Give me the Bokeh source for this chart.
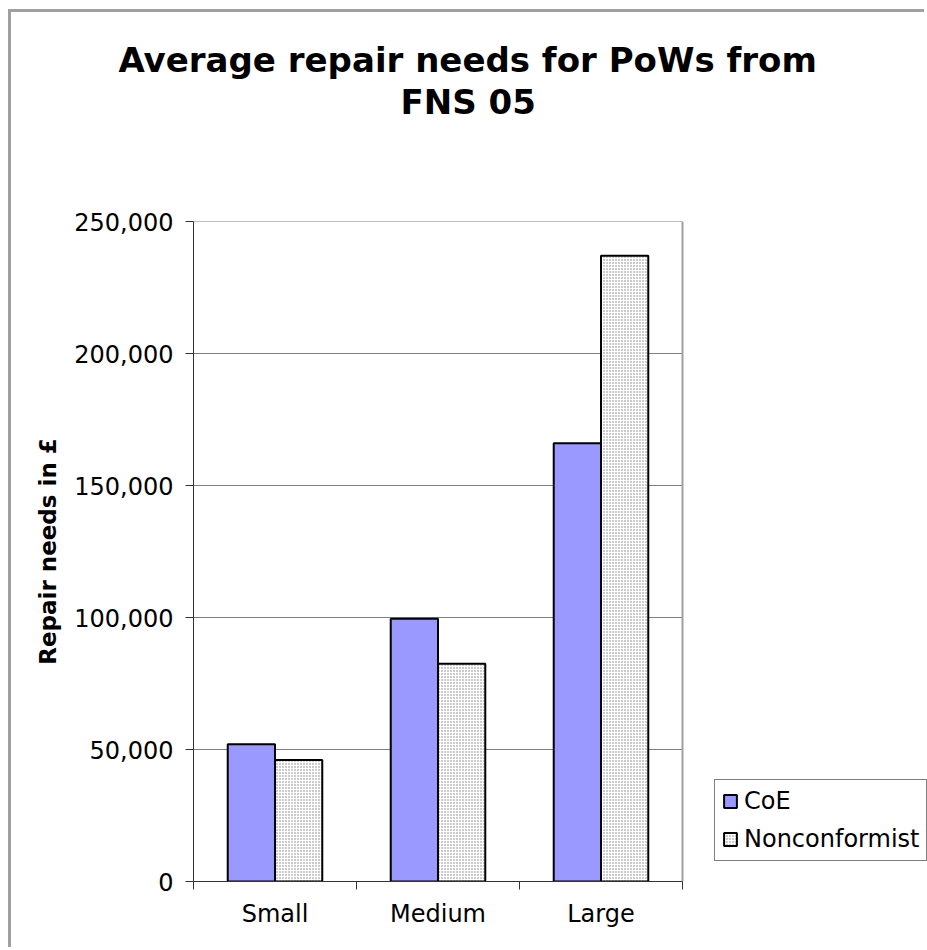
from bokeh.plotting import figure
from bokeh.models import (Range1d, LinearAxis, FixedTicker,
                          NumeralTickFormatter, Legend, LegendItem, ColumnDataSource, Title)
from bokeh.transform import dodge
from bokeh.embed import file_html
from bokeh.resources import INLINE

categories = ["Small", "Medium", "Large"]
coe = [52000, 99500, 166000]
nonconformist = [46000, 82500, 237000]
y_ticks = [0, 50000, 100000, 150000, 200000, 250000]
series_names = ["CoE", "Nonconformist"]
title_lines = ["Average repair needs for PoWs from", "FNS 05"]

FONT = "DejaVu Sans"
n = len(categories)

# geometry: the visible plot area is PLOT_PX wide; the frame extends to the canvas edge
CANVAS_W, CANVAS_H = 916, 938
LEFT, TOP, BOTTOM = 182, 209, 69
PLOT_PX = 489
FRAME_PX = CANVAS_W - LEFT
x_end = n * FRAME_PX / PLOT_PX

# category slots on a numeric axis: slot i spans [i, i+1], centre at i+0.5
centres = [i + 0.5 for i in range(n)]
bounds = list(range(n + 1))

src = ColumnDataSource(dict(xc=centres, coe=coe, non=nonconformist))
grid_src = ColumnDataSource(dict(y=y_ticks, x0=[0] * len(y_ticks), x1=[n] * len(y_ticks)))

p = figure(width=CANVAS_W, height=CANVAS_H, output_backend="svg", toolbar_location=None,
           x_range=Range1d(0, x_end), y_range=Range1d(y_ticks[0], y_ticks[-1]),
           x_axis_location=None, y_axis_location=None,
           min_border_left=LEFT, min_border_right=0, min_border_top=TOP, min_border_bottom=BOTTOM)
p.background_fill_color = "white"
p.border_fill_color = "white"
p.outline_line_color = None
p.styles = {"margin-left": "8px", "margin-top": "9px",
            "border-left": "3px solid #a0a0a0", "border-top": "3px solid #a0a0a0"}

# title: spacer closest to the frame, then second line, then first line
t0 = Title(text=" ", text_font_size="1px", standoff=97)
t2 = Title(text=title_lines[1], align="left", offset=207,
           text_font=FONT, text_font_size="34px", text_font_style="bold",
           text_color="black", standoff=0)
t1 = Title(text=title_lines[0], align="left", offset=-75,
           text_font=FONT, text_font_size="34px", text_font_style="bold",
           text_color="black", standoff=0)
p.add_layout(t0, "above")
p.add_layout(t2, "above")
p.add_layout(t1, "above")

# y axis
ya = LinearAxis(ticker=FixedTicker(ticks=y_ticks), formatter=NumeralTickFormatter(format="0,0"),
                axis_label="Repair needs in £", axis_label_text_font=FONT,
                axis_label_text_font_size="23px", axis_label_text_font_style="bold",
                axis_label_text_color="black", axis_label_standoff=10,
                major_label_text_font=FONT, major_label_text_font_size="24px",
                major_label_text_color="black", major_label_standoff=12,
                major_tick_in=0, major_tick_out=8, minor_tick_line_color=None,
                axis_line_color="#333333", major_tick_line_color="#333333")
p.add_layout(ya, "left")

# x axis: labels at slot centres, ticks at slot boundaries
xa = LinearAxis(ticker=FixedTicker(ticks=centres, minor_ticks=bounds), bounds=(0, n),
                major_label_overrides={c: name for c, name in zip(centres, categories)},
                major_label_text_font=FONT, major_label_text_font_size="24px",
                major_label_text_color="black", major_label_standoff=10,
                major_tick_line_color=None, major_tick_in=0, major_tick_out=8,
                minor_tick_in=0, minor_tick_out=8, minor_tick_line_color="#333333",
                axis_line_color="#333333")
p.add_layout(xa, "below")

p.xgrid.visible = False
p.ygrid.visible = False

# horizontal gridlines across the plot area only
p.segment(x0="x0", y0="y", x1="x1", y1="y", source=grid_src, line_color="#808080", line_width=1)
# right edge of plot area
p.segment(x0=[n], y0=[y_ticks[0]], x1=[n], y1=[y_ticks[-1]], line_color="#a0a0a0", line_width=2)

r1 = p.vbar(x=dodge("xc", -0.145), top="coe", width=0.29, source=src,
            fill_color="#9999ff", line_color="black", line_width=2)
r2 = p.vbar(x=dodge("xc", 0.145), top="non", width=0.29, source=src,
            fill_color="white", hatch_pattern="dot", hatch_color="#808080", hatch_scale=3,
            hatch_weight=1, line_color="black", line_width=2)

legend = Legend(items=[LegendItem(label=series_names[0], renderers=[r1]),
                       LegendItem(label=series_names[1], renderers=[r2])],
                location=(521, 20), orientation="vertical",
                label_text_font=FONT, label_text_font_size="24px", label_text_color="black",
                glyph_width=16, glyph_height=16, label_height=22, spacing=10,
                padding=7, margin=0, label_standoff=6,
                border_line_color="black", border_line_width=1,
                background_fill_color="white", background_fill_alpha=1)
p.add_layout(legend, "center")

open("out.html", "w").write(file_html(p, INLINE))
